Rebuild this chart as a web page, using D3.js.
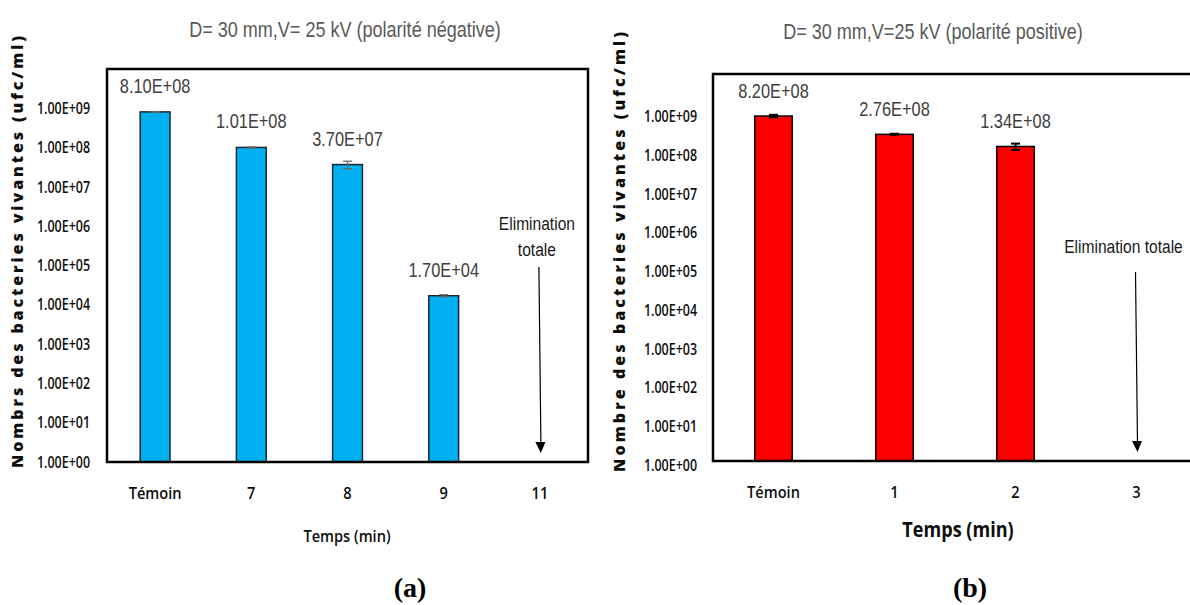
<!DOCTYPE html>
<meta charset="utf-8">
<script src="https://d3js.org/d3.v7.min.js"></script>
<style>
  * {margin: 0; padding: 0;}
  body {background: #fff;}
  .title {font-family: "Liberation Sans", Arial, sans-serif; font-size: 22px; fill: #595959;}
  .vlabel {font-family: "Liberation Sans", Arial, sans-serif; font-size: 20px; fill: #404040;}
  .note {font-family: "Liberation Sans", Arial, sans-serif; font-size: 19px; fill: #1a1a1a;}
  .ytick text {font-family: "Open Sans", sans-serif; font-size: 16px; font-weight: 600; fill: #0d0d0d;}
  .xtick text {font-family: "Open Sans", sans-serif; font-size: 17px; font-weight: 600; fill: #0d0d0d;}
  .ytitle {font-family: "Open Sans", sans-serif; font-size: 16px; font-weight: 800; fill: #0d0d0d;}
  .xtitle {font-family: "Open Sans", sans-serif; fill: #0d0d0d;}
  .panel {font-family: "Liberation Serif", serif; font-size: 28px; font-weight: bold; fill: #000;}
</style>
<body>
<div id="chart"></div>
<script>

// panel (a) : polarite negative
var catsA = ["Témoin", "7", "8", "9", "11"];
var valsA = [8.10e8, 1.01e8, 3.70e7, 1.70e4, null];
var errsA = [1.5e7, 3e6, 8e6, 1e3, null];

// panel (b) : polarite positive
var catsB = ["Témoin", "1", "2", "3"];
var valsB = [8.20e8, 2.76e8, 1.34e8, null];
var errsB = [6e7, 1e7, 2.5e7, null];

var yTicks = [1e0, 1e1, 1e2, 1e3, 1e4, 1e5, 1e6, 1e7, 1e8, 1e9];

var narrow = 0.82;   // the original figure is squeezed horizontally

// 8.1e8 -> "8.10E+08"
function sci(v) {
  var p = v.toExponential(2).split("e");
  var e = p[1];
  return p[0] + "E" + e[0] + e.slice(1).padStart(2, "0");
}

function at(x, y, s) {
  return "translate(" + x + "," + y + ") scale(" + (s || narrow) + ",1)";
}

var svg = d3.select("#chart")
  .append("svg")
    .attr("width", 1190)
    .attr("height", 605);

function panel(opt) {
  var x = d3.scaleBand()
    .domain(opt.cats)
    .range([opt.left, opt.right]);

  var y = d3.scaleLog()
    .domain([1, 1e10])
    .range([opt.bottom, opt.top]);

  var g = svg.append("g");
  var mid = function(c) { return x(c) + x.bandwidth() / 2; };

  // bars
  var bw = x.bandwidth() * 0.31;
  var data = opt.cats.map(function(c, i) { return {cat: c, v: opt.vals[i], e: opt.errs[i]}; })
    .filter(function(d) { return d.v != null; });

  g.selectAll(".bar")
    .data(data)
    .enter()
    .append("rect")
      .attr("class", "bar")
      .attr("x", function(d) { return mid(d.cat) - bw / 2; })
      .attr("y", function(d) { return y(d.v); })
      .attr("width", bw)
      .attr("height", function(d) { return y(1) - y(d.v); })
      .style("fill", opt.color)
      .style("stroke", opt.barStroke)
      .style("stroke-width", 1.5);

  // error bars
  var eb = g.selectAll(".err")
    .data(data)
    .enter()
    .append("g")
      .attr("transform", function(d) { return "translate(" + mid(d.cat) + ",0)"; })
      .style("stroke", opt.errColor)
      .style("stroke-width", opt.errWidth);
  eb.append("line")
    .attr("y1", function(d) { return y(d.v + d.e); })
    .attr("y2", function(d) { return y(d.v - d.e); });
  eb.append("line")
    .attr("x1", -4.5).attr("x2", 4.5)
    .attr("y1", function(d) { return y(d.v + d.e); })
    .attr("y2", function(d) { return y(d.v + d.e); });
  eb.append("line")
    .attr("x1", -4.5).attr("x2", 4.5)
    .attr("y1", function(d) { return y(d.v - d.e); })
    .attr("y2", function(d) { return y(d.v - d.e); });

  // value labels
  g.selectAll(".vlabel")
    .data(data)
    .enter()
    .append("text")
      .attr("class", "vlabel")
      .attr("text-anchor", "middle")
      .attr("transform", function(d) { return at(mid(d.cat), y(d.v) - opt.labelGap); })
      .text(function(d) { return sci(d.v); });

  // frame
  g.append("rect")
    .attr("x", opt.left)
    .attr("y", y(1e10))
    .attr("width", opt.right - opt.left)
    .attr("height", y(1) - y(1e10))
    .style("fill", "none")
    .style("stroke", "#000")
    .style("stroke-width", 2.5);

  // y axis
  var ya = g.append("g")
    .attr("class", "ytick")
    .attr("transform", "translate(" + opt.left + "," + opt.yShift + ")")
    .call(d3.axisLeft(y).tickValues(yTicks).tickFormat(sci).tickSize(0).tickPadding(opt.yPad));
  ya.select(".domain").remove();
  ya.selectAll("text")
    .attr("x", -opt.yPad / 0.78)
    .attr("transform", "scale(0.78,1)");

  // x axis
  var xa = g.append("g")
    .attr("class", "xtick")
    .attr("transform", "translate(0," + y(1) + ")")
    .call(d3.axisBottom(x).tickSize(0).tickPadding(25));
  xa.select(".domain").remove();
  xa.selectAll("text")
    .attr("transform", "scale(0.86,1)");

  // titles
  g.append("text")
    .attr("class", "title")
    .attr("text-anchor", "middle")
    .attr("transform", at(opt.titleX, opt.titleY))
    .text(opt.title);

  g.append("text")
    .attr("class", "ytitle")
    .attr("text-anchor", "middle")
    .attr("transform", "rotate(-90)")
    .attr("x", -252)
    .attr("y", opt.yTitleX)
    .attr("textLength", opt.yTitleLen)
    .attr("lengthAdjust", "spacing")
    .text(opt.yTitle);

  g.append("text")
    .attr("class", "xtitle")
    .attr("text-anchor", "middle")
    .attr("transform", at(opt.xTitleX, opt.xTitleY, 0.86))
    .style("font-size", opt.xTitleSize)
    .style("font-weight", opt.xTitleWeight)
    .text("Temps (min)");

  g.append("text")
    .attr("class", "panel")
    .attr("text-anchor", "middle")
    .attr("x", opt.panelX)
    .attr("y", 597)
    .text(opt.panel);

  // "Elimination totale" arrow on the last category
  var ax = mid(opt.cats[opt.cats.length - 1]);
  opt.note.forEach(function(t, i) {
    g.append("text")
      .attr("class", "note")
      .attr("text-anchor", "middle")
      .attr("transform", at(ax + opt.noteDx, opt.noteY + i * 26))
      .text(t);
  });
  g.append("line")
    .attr("x1", ax - 1).attr("x2", ax + 1)
    .attr("y1", opt.arrowTop).attr("y2", y(1) - 18)
    .style("stroke", "#000")
    .style("stroke-width", 1.2);
  g.append("path")
    .attr("d", "M" + (ax - 4.5) + "," + (y(1) - 20) + "L" + (ax + 5.5) + "," + (y(1) - 20) + "L" + (ax + 1) + "," + (y(1) - 9) + "Z")
    .style("fill", "#000");
}

panel({
  cats: catsA, vals: valsA, errs: errsA,
  left: 107, right: 588, top: 69, bottom: 462,
  color: "#00B0F0", barStroke: "#1b2733", errColor: "#666", errWidth: 1.3,
  labelGap: 19, yPad: 17, yShift: 0,
  title: "D= 30 mm,V= 25 kV (polarité négative)", titleX: 345, titleY: 37,
  yTitle: "Nombrs des bacteries vivantes (ufc/ml)", yTitleX: 23, yTitleLen: 432,
  xTitleX: 347, xTitleY: 542, xTitleSize: "17px", xTitleWeight: 600,
  panel: "(a)", panelX: 410,
  note: ["Elimination", "totale"], noteDx: -3, noteY: 230, arrowTop: 267
});

panel({
  cats: catsB, vals: valsB, errs: errsB,
  left: 713, right: 1197, top: 74, bottom: 461,
  color: "#FF0000", barStroke: "#000", errColor: "#000", errWidth: 2,
  labelGap: 18, yPad: 16, yShift: 4,
  title: "D= 30 mm,V=25 kV (polarité positive)", titleX: 933, titleY: 39,
  yTitle: "Nombre des bacteries vivantes (ufc/ml)", yTitleX: 625, yTitleLen: 440,
  xTitleX: 958, xTitleY: 537, xTitleSize: "21px", xTitleWeight: 700,
  panel: "(b)", panelX: 970,
  note: ["Elimination totale"], noteDx: -13, noteY: 253, arrowTop: 272
});

</script>
</body>
